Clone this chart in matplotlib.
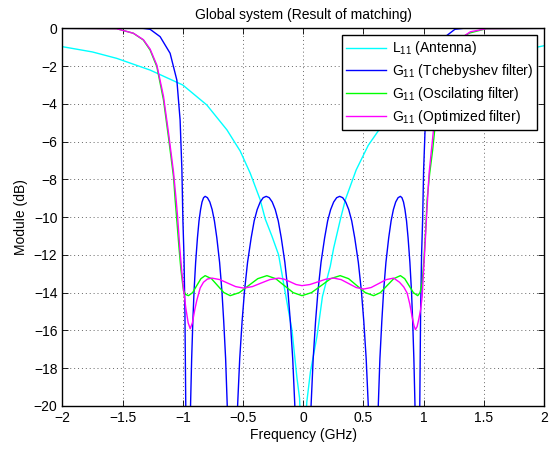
import numpy as np
import matplotlib
matplotlib.use('Agg')
import matplotlib.pyplot as plt

plt.rcParams['font.family'] = ['Liberation Sans', 'DejaVu Sans']
plt.rcParams['mathtext.default'] = 'regular'

# frequency axis (GHz) and |S11| in dB for each curve
ant_f = [-2.0, -1.75, -1.548, -1.271, -1.0, -0.8, -0.633, -0.523, -0.44, -0.357, -0.315, -0.26,
         -0.204, -0.149, -0.093, -0.052, -0.03, -0.003, 0.03, 0.06, 0.115, 0.16, 0.225, 0.253,
         0.308, 0.35, 0.44, 0.54, 0.627, 0.8, 1.0, 1.27, 1.55, 1.75, 2.0]
ant_db = [-0.97, -1.25, -1.59, -2.21, -3.0, -4.06, -5.38, -6.5, -7.67, -9.08, -10.1, -11.0,
          -12.0, -14.0, -16.0, -18.5, -19.6, -24.0, -19.8, -18.2, -16.3, -14.2, -12.6, -11.64,
          -10.14, -9.08, -7.5, -6.2, -5.4, -4.06, -3.0, -2.2, -1.6, -1.25, -0.92]

tch_f = [-2.0, -1.33, -1.271, -1.188, -1.105, -1.049, -1.022, -1.007, -0.999, -0.99, -0.982, -0.975,
         -0.962, -0.947, -0.935, -0.926, -0.916, -0.906, -0.893, -0.878, -0.865, -0.852, -0.840, -0.827,
         -0.814, -0.795, -0.775, -0.756, -0.737, -0.717, -0.694, -0.675, -0.660, -0.644, -0.631, -0.614,
         -0.590, -0.567, -0.544, -0.527, -0.507, -0.487, -0.462, -0.432, -0.407, -0.382, -0.357, -0.332,
         -0.307, -0.282, -0.257, -0.232, -0.207, -0.182, -0.152, -0.127, -0.107, -0.087, -0.070, -0.047,
         -0.005, 0.043, 0.066, 0.083, 0.103, 0.123, 0.148, 0.178, 0.203, 0.228, 0.253, 0.278,
         0.303, 0.328, 0.353, 0.378, 0.403, 0.428, 0.458, 0.483, 0.503, 0.523, 0.540, 0.563,
         0.585, 0.607, 0.624, 0.637, 0.653, 0.668, 0.687, 0.710, 0.730, 0.749, 0.768, 0.788,
         0.807, 0.820, 0.833, 0.845, 0.858, 0.871, 0.886, 0.899, 0.909, 0.919, 0.928, 0.940,
         0.955, 0.968, 0.975, 0.983, 0.992, 1.0, 1.015, 1.042, 1.098, 1.18, 1.26, 1.33, 2.0]
tch_db = [0, 0, -0.05, -0.44, -1.32, -2.74, -4.85, -7.5, -10.1, -12, -15, -20,
          -40, -24.7, -19.9, -17.5, -15.5, -13.9, -12.4, -11.1, -10.2, -9.6, -9.2, -8.97,
          -8.9, -8.97, -9.2, -9.6, -10.2, -11.1, -12.4, -13.9, -15.5, -17.5, -19.9, -24.7,
          -40, -24.7, -19.9, -17.5, -15.5, -13.9, -12.4, -11.1, -10.2, -9.6, -9.2, -8.97,
          -8.9, -8.97, -9.2, -9.6, -10.2, -11.1, -12.4, -13.9, -15.5, -17.5, -19.9, -24.7,
          -40, -24.7, -19.9, -17.5, -15.5, -13.9, -12.4, -11.1, -10.2, -9.6, -9.2, -8.97,
          -8.9, -8.97, -9.2, -9.6, -10.2, -11.1, -12.4, -13.9, -15.5, -17.5, -19.9, -24.7,
          -40, -24.7, -19.9, -17.5, -15.5, -13.9, -12.4, -11.1, -10.2, -9.6, -9.2, -8.97,
          -8.9, -8.97, -9.2, -9.6, -10.2, -11.1, -12.4, -13.9, -15.5, -17.5, -19.9, -24.7,
          -40, -20, -15, -12, -10.1, -7.5, -4.85, -2.74, -1.32, -0.44, -0.05, 0, 0]

osc_f = [-2.0, -1.548, -1.41, -1.327, -1.271, -1.215, -1.16, -1.119, -1.077, -1.063, -1.045, -1.03,
         -1.015, -0.994, -0.975,
         -0.953, -0.918, -0.884, -0.849, -0.814, -0.762, -0.710, -0.658, -0.606, -0.530, -0.454, -0.377,
         -0.301, -0.228, -0.156, -0.083, -0.01, 0.069, 0.149, 0.228, 0.307, 0.377, 0.446, 0.516,
         0.585, 0.641, 0.696, 0.752, 0.807, 0.843, 0.879, 0.915, 0.951,
         0.97, 0.988, 1.003, 1.015, 1.029, 1.05, 1.075, 1.095, 1.12, 1.17, 1.23, 1.29, 1.38, 1.52, 2.0]
osc_db = [0, -0.02, -0.26, -0.62, -1.15, -2.03, -3.79, -5.74, -7.85, -9.08, -10.5, -11.7,
          -12.8, -13.9, -14.1,
          -14.16, -14.0, -13.63, -13.26, -13.1, -13.26, -13.63, -14.0, -14.16, -14.0, -13.63, -13.26,
          -13.1, -13.26, -13.63, -14.0, -14.16, -14.0, -13.63, -13.26, -13.1, -13.26, -13.63, -14.0,
          -14.16, -14.0, -13.63, -13.26, -13.1, -13.26, -13.63, -14.0, -14.16,
          -14.0, -13.49, -12.2, -10.9, -9.08, -7.7, -6.44, -5.2, -3.8, -2.1, -1.15, -0.6, -0.25, -0.02, 0]

opt_f = [-2.0, -1.548, -1.41, -1.327, -1.271, -1.215, -1.16, -1.119, -1.077, -1.055, -1.043, -1.025,
         -1.008, -0.994, -0.975, -0.955, -0.938, -0.92, -0.9, -0.883, -0.855, -0.828, -0.795, -0.758,
         -0.692, -0.627, -0.561, -0.495, -0.422, -0.350, -0.277, -0.204, -0.156, -0.107, -0.059, -0.01,
         0.056, 0.122, 0.187, 0.253, 0.315, 0.378, 0.440, 0.502, 0.564, 0.627, 0.689, 0.751,
         0.80, 0.835, 0.863, 0.885, 0.904, 0.92, 0.932, 0.946, 0.959, 0.975, 0.988,
         0.998, 1.01, 1.025, 1.045, 1.065, 1.085, 1.115, 1.165, 1.225, 1.29, 1.389, 1.52, 2.0]
opt_db = [0, -0.02, -0.26, -0.6, -1.1, -1.95, -3.6, -5.5, -7.6, -9.08, -9.97, -11.6,
          -12.9, -13.76, -14.8, -15.6, -15.91, -15.6, -14.9, -14.4, -13.75, -13.45, -13.28, -13.23,
          -13.31, -13.495, -13.68, -13.76, -13.68, -13.495, -13.31, -13.23, -13.29, -13.43, -13.57, -13.63,
          -13.57, -13.43, -13.29, -13.23, -13.31, -13.52, -13.73, -13.81, -13.73, -13.52, -13.31, -13.23,
          -13.45, -13.7, -14.02, -14.6, -15.26, -15.75, -15.96, -15.8, -15.43, -14.9, -14.2,
          -13.0, -11.7, -9.9, -7.7, -6.44, -5.2, -3.8, -2.1, -1.15, -0.6, -0.18, -0.02, 0]

labels = [r'L$_{11}$ (Antenna)', r'G$_{11}$ (Tchebyshev filter)',
          r'G$_{11}$ (Oscilating filter)', r'G$_{11}$ (Optimized filter)']
colors = ['#00ffff', '#0000ff', '#00ff00', '#ff00ff']

xticks = [-2, -1.5, -1, -0.5, 0, 0.5, 1, 1.5, 2]
xticklabels = ['\u22122', '\u22121.5', '\u22121', '\u22120.5', '0', '0.5', '1', '1.5', '2']
yticks = [0, -2, -4, -6, -8, -10, -12, -14, -16, -18, -20]
yticklabels = ['0' if t == 0 else '\u2212%d' % -t for t in yticks]

fig = plt.figure(figsize=(5.49, 4.5), dpi=100)
ax = fig.add_axes([0.1135, 0.098, 0.8775, 0.839])

series = [(ant_f, ant_db), (tch_f, tch_db), (osc_f, osc_db), (opt_f, opt_db)]
for (f, db), c, lab in zip(series, colors, labels):
    ax.plot(f, db, '-', color=c, lw=1.0, label=lab)

ax.set_xlim(-2, 2)
ax.set_ylim(-20, 0)
ax.set_xticks(xticks)
ax.set_xticklabels(xticklabels)
ax.set_yticks(yticks)
ax.set_yticklabels(yticklabels)
ax.tick_params(direction='in', top=True, right=True, labelsize=10, length=4, width=0.6)
ax.grid(True, linestyle=(0, (1, 3)), color='#666666', linewidth=0.7)
for s in ax.spines.values():
    s.set_linewidth(1.0)

ax.set_xlabel('Frequency (GHz)', fontsize=10, labelpad=2)
ax.set_ylabel('Module (dB)', fontsize=10, labelpad=4)
ax.set_title('Global system (Result of matching)', fontsize=10, pad=7)

leg = ax.legend(loc='upper right', fontsize=10, fancybox=False, framealpha=1,
                edgecolor='black', handlelength=2.9, handletextpad=0.4,
                borderaxespad=0.5, labelspacing=0.35, borderpad=0.3)
leg.get_frame().set_linewidth(1.0)

fig.savefig('out.png', dpi=100)
